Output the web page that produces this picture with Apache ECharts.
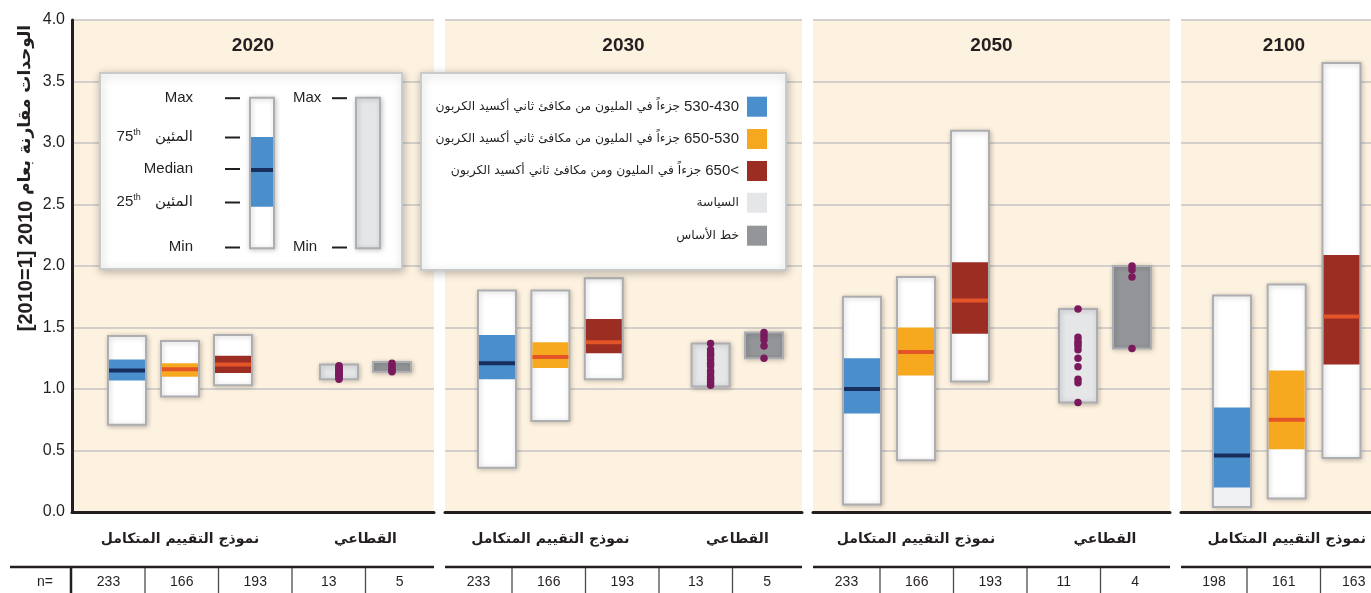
<!DOCTYPE html>
<html>
<head>
<meta charset="utf-8">
<script src="https://cdn.jsdelivr.net/npm/echarts@6/dist/echarts.min.js"></script>
<style>
  html, body { margin: 0; padding: 0; background: #ffffff; }
  #chart { width: 1371px; height: 593px; }
</style>
</head>
<body>
<div id="chart"></div>
<script>
// ---- Data -------------------------------------------------------------
const years = ['2020', '2030', '2050', '2100'];
const scenarioNames = ['430-530', '530-650', '>650'];
const sectorNames = ['السياسة', 'خط الأساس'];

// Integrated-model ranges per year: [min, 25th, median, 75th, max]
const iam430to530 = [
  [0.71, 1.07, 1.15, 1.24, 1.43],
  [0.36, 1.08, 1.21, 1.44, 1.80],
  [0.06, 0.80, 1.00, 1.25, 1.75],
  [0.04, 0.20, 0.46, 0.85, 1.76]
];
const iam530to650 = [
  [0.94, 1.10, 1.16, 1.21, 1.39],
  [0.74, 1.17, 1.26, 1.38, 1.80],
  [0.42, 1.11, 1.30, 1.50, 1.91],
  [0.11, 0.51, 0.75, 1.15, 1.85]
];
const iamAbove650 = [
  [1.03, 1.13, 1.20, 1.27, 1.44],
  [1.08, 1.29, 1.38, 1.57, 1.90],
  [1.06, 1.45, 1.72, 2.03, 3.10],
  [0.44, 1.20, 1.59, 2.09, 3.65]
];

// Sectoral studies (2020, 2030, 2050): [min, max] and individual studies
const policyRange = [[1.08, 1.20], [1.02, 1.37], [0.89, 1.65]];
const baselineRange = [[1.14, 1.22], [1.25, 1.46], [1.33, 2.00]];
const policyPoints = [
  [1.19, 1.18, 1.17, 1.16, 1.15, 1.14, 1.13, 1.12, 1.12, 1.11, 1.10, 1.09, 1.08],
  [1.37, 1.32, 1.29, 1.27, 1.24, 1.21, 1.19, 1.15, 1.13, 1.10, 1.08, 1.05, 1.03],
  [1.65, 1.42, 1.39, 1.37, 1.35, 1.32, 1.25, 1.18, 1.08, 1.05, 0.89]
];
const baselinePoints = [
  [1.21, 1.19, 1.17, 1.15, 1.14],
  [1.46, 1.43, 1.40, 1.35, 1.25],
  [2.00, 1.97, 1.91, 1.33]
];

// Number of scenarios / studies behind each column
const nIam = [[233, 166, 193], [233, 166, 193], [233, 166, 193], [198, 161, 163]];
const nSector = [[13, 5], [13, 5], [11, 4]];

const iamByScenario = [iam430to530, iam530to650, iamAbove650];

// ---- Layout & styles ---------------------------------------------------
const TOP = 20, BASE = 512;
const panels = [
  { left: 72,   right: 434,  dataLeft: 100.5,  band: 53,    tableSep: 145 },
  { left: 445,  right: 802,  dataLeft: 470.3,  band: 53.4,  tableSep: 512 },
  { left: 813,  right: 1170, dataLeft: 835,    band: 54,    tableSep: 880 },
  { left: 1181, right: 1387, dataLeft: 1204.6, band: 54.75, tableSep: 1247 }
];
const TABLE_COL = 73.5;
const BOX_W = 38;

const FONT = "'Liberation Sans', Arial, sans-serif";
const AR_FONT = "'DejaVu Sans', sans-serif";
const INK = '#231f20';
const PANEL_BG = '#fdf1df';
const GRID_LINE = '#c4c4c4';
const BOX_STROKE = '#adaeb1';
const DOT = '#7a1a5c';
const scenarioStyle = [
  { band: '#4a8ecb', median: '#182f5d' },
  { band: '#f6a81f', median: '#e35427' },
  { band: '#9b2d22', median: '#e35427' }
];
const sectorFill = ['#e5e6e8', '#939598'];
// light fill of the lower tail of the 430-530 column in 2100
const lowerTailFill = { '2100': { 0: '#eff0f2' } };

const boxShadow = { shadowBlur: 5, shadowColor: 'rgba(0,0,0,0.22)', shadowOffsetX: 1, shadowOffsetY: 1 };
const KEY_Z = 40;

function categoriesFor(i) {
  return i < 3 ? [...scenarioNames, ' ', ...sectorNames] : [...scenarioNames];
}

function centredText(x, y, text, font, extra) {
  return Object.assign({ type: 'text', z: 20, x, y,
    style: { text, font, fill: INK, align: 'center', verticalAlign: 'middle',
             textAlign: 'center', textVerticalAlign: 'middle' } }, extra || {});
}

// ---- Components --------------------------------------------------------
const grid = [], xAxis = [], yAxis = [], series = [], graphic = [];

panels.forEach((p, i) => {
  const cats = categoriesFor(i);
  // frame grid: beige panel, gridlines, baseline
  grid.push({ left: p.left, top: TOP, width: p.right - p.left, height: BASE - TOP,
              show: true, backgroundColor: PANEL_BG, borderWidth: 0 });
  // data grid: category slots for the columns
  grid.push({ left: p.dataLeft, top: TOP, width: p.band * cats.length, height: BASE - TOP });

  xAxis.push({ gridIndex: 2 * i, type: 'value', min: 0, max: 1,
    axisLine: { show: true, onZero: false, lineStyle: { color: INK, width: 3 } },
    axisTick: { show: false }, axisLabel: { show: false }, splitLine: { show: false } });
  yAxis.push({ gridIndex: 2 * i, type: 'value', min: 0, max: 4, interval: 0.5,
    axisLine: { show: i === 0, lineStyle: { color: INK, width: 3 } },
    axisTick: { show: false },
    axisLabel: { show: i === 0, formatter: v => v.toFixed(1), fontSize: 16, fontFamily: FONT, color: INK, margin: 7 },
    splitLine: { show: true, lineStyle: { color: GRID_LINE, width: 1.5 } } });

  xAxis.push({ gridIndex: 2 * i + 1, type: 'category', data: cats, show: false });
  yAxis.push({ gridIndex: 2 * i + 1, type: 'value', min: 0, max: 4, show: false });

  const year = years[i];

  // integrated-model columns
  series.push({
    type: 'custom', name: 'IAM ' + year, xAxisIndex: 2 * i + 1, yAxisIndex: 2 * i + 1, z: 3,
    data: scenarioNames.map((name, s) => [name, ...iamByScenario[s][i]]),
    renderItem: (params, api) => {
      const s = params.dataIndex;
      const idx = api.value(0);
      const xc = api.coord([idx, 0])[0];
      const y = v => api.coord([idx, v])[1];
      const x0 = xc - BOX_W / 2;
      const yMin = y(api.value(1)), yQ1 = y(api.value(2)), yMed = y(api.value(3)),
            yQ3 = y(api.value(4)), yMax = y(api.value(5));
      const st = scenarioStyle[s];
      const children = [
        { type: 'rect', shape: { x: x0, y: yMax, width: BOX_W, height: yMin - yMax },
          style: Object.assign({ fill: '#ffffff', stroke: BOX_STROKE, lineWidth: 2 }, boxShadow) }
      ];
      const tail = lowerTailFill[year] && lowerTailFill[year][s];
      if (tail) {
        children.push({ type: 'rect', shape: { x: x0 + 1, y: yQ1, width: BOX_W - 2, height: yMin - yQ1 - 1 },
                        style: { fill: tail } });
      }
      children.push(
        { type: 'rect', shape: { x: x0 + 1, y: yQ3, width: BOX_W - 2, height: yQ1 - yQ3 }, style: { fill: st.band } },
        { type: 'rect', shape: { x: x0 + 1, y: yMed - 2, width: BOX_W - 2, height: 4 }, style: { fill: st.median } }
      );
      return { type: 'group', children };
    }
  });

  if (i < 3) {
    // sectoral ranges
    series.push({
      type: 'custom', name: 'Sectoral ' + year, xAxisIndex: 2 * i + 1, yAxisIndex: 2 * i + 1, z: 3,
      data: [[sectorNames[0], ...policyRange[i]], [sectorNames[1], ...baselineRange[i]]],
      renderItem: (params, api) => {
        const idx = api.value(0);
        const xc = api.coord([idx, 0])[0];
        const yLo = api.coord([idx, api.value(1)])[1];
        const yHi = api.coord([idx, api.value(2)])[1];
        return { type: 'rect', shape: { x: xc - BOX_W / 2, y: yHi, width: BOX_W, height: yLo - yHi },
          style: Object.assign({ fill: sectorFill[params.dataIndex], stroke: BOX_STROKE, lineWidth: 2 }, boxShadow) };
      }
    });
    // individual sectoral studies
    series.push({
      type: 'scatter', name: 'Studies ' + year, xAxisIndex: 2 * i + 1, yAxisIndex: 2 * i + 1, z: 4,
      symbol: 'circle', symbolSize: 7.5, itemStyle: { color: DOT, opacity: 1 },
      data: [...policyPoints[i].map(v => [sectorNames[0], v]), ...baselinePoints[i].map(v => [sectorNames[1], v])]
    });
  }

  // panel title
  graphic.push(centredText((p.left + p.right) / 2, 46, year, 'bold 19px ' + FONT));

  // group labels under the axis
  graphic.push(centredText(p.dataLeft + p.band * 1.5, 539, 'نموذج التقييم المتكامل', 'bold 14px ' + AR_FONT));
  if (i < 3) {
    graphic.push(centredText(p.dataLeft + p.band * 5, 539, 'القطاعي', 'bold 14px ' + AR_FONT));
  }

  // n= row
  const lineStart = i === 0 ? 10 : p.left;
  graphic.push({ type: 'line', z: 20, shape: { x1: lineStart, y1: 567, x2: p.right, y2: 567 },
                 style: { stroke: INK, lineWidth: 2.5 } });
  const counts = i < 3 ? [...nIam[i], ...nSector[i]] : nIam[i];
  const edges = [p.left];
  for (let k = 0; k < counts.length - 1; k++) edges.push(p.tableSep + TABLE_COL * k);
  edges.push(p.right);
  counts.forEach((n, k) => {
    graphic.push(centredText((edges[k] + edges[k + 1]) / 2, 582, String(n), '14px ' + FONT));
  });
  for (let k = 1; k < counts.length; k++) {
    graphic.push({ type: 'line', z: 20, shape: { x1: edges[k], y1: 568, x2: edges[k], y2: 593 },
                   style: { stroke: '#4a4a4a', lineWidth: 1.3 } });
  }
  if (i === 0) {
    graphic.push({ type: 'line', z: 20, shape: { x1: 71, y1: 567, x2: 71, y2: 593 },
                   style: { stroke: INK, lineWidth: 2.5 } });
    graphic.push(centredText(45, 582, 'n=', '14px ' + FONT));
  }
});

// y-axis title
graphic.push({ type: 'text', z: 20, x: 26, y: 178, rotation: Math.PI / 2,
  style: {
    text: '{a|[2010=1] 2010 }{b|الوحدات مقارنة بعام}',
    rich: {
      a: { fontFamily: FONT, fontWeight: 'bold', fontSize: 20, fill: INK },
      b: { fontFamily: AR_FONT, fontWeight: 'bold', fontSize: 17, fill: INK }
    },
    fill: INK, align: 'center', verticalAlign: 'middle', textAlign: 'center', textVerticalAlign: 'middle'
  } });

// ---- Key: how to read a column ----------------------------------------
const keyPanelStyle = { fill: '#ffffff', stroke: '#c9cacc', lineWidth: 2,
  shadowBlur: 8, shadowColor: 'rgba(0,0,0,0.25)', shadowOffsetX: 1, shadowOffsetY: 2 };
graphic.push({ type: 'rect', z: KEY_Z, shape: { x: 100, y: 73, width: 302, height: 196 }, style: keyPanelStyle });
const percentileRich = {
  n: { fontFamily: FONT, fontSize: 15, fill: INK, lineHeight: 18 },
  s: { fontFamily: FONT, fontSize: 9, fill: INK, verticalAlign: 'top', lineHeight: 18 },
  t: { fontFamily: AR_FONT, fontSize: 15, fill: INK, lineHeight: 18 }
};
const keyLabels = [
  { y: 97.7, text: 'Max' },
  { y: 137, text: '{n|75}{s|th}{t|   المئين}' },
  { y: 168.5, text: 'Median' },
  { y: 202, text: '{n|25}{s|th}{t|   المئين}' },
  { y: 247, text: 'Min' }
];
keyLabels.forEach(l => {
  graphic.push({ type: 'text', z: KEY_Z + 1, x: 193, y: l.y,
    style: { text: l.text, rich: percentileRich, font: '15px ' + FONT, fill: INK,
             align: 'right', verticalAlign: 'middle', textAlign: 'right', textVerticalAlign: 'middle' } });
  graphic.push({ type: 'line', z: KEY_Z + 1, shape: { x1: 225, y1: l.y + 0.5, x2: 240, y2: l.y + 0.5 },
                 style: { stroke: INK, lineWidth: 2 } });
});
graphic.push({ type: 'rect', z: KEY_Z + 1, shape: { x: 250, y: 97.7, width: 24, height: 150.6 },
  style: Object.assign({ fill: '#ffffff', stroke: BOX_STROKE, lineWidth: 2 }, boxShadow) });
graphic.push({ type: 'rect', z: KEY_Z + 2, shape: { x: 251, y: 137, width: 22, height: 69.7 },
               style: { fill: scenarioStyle[0].band } });
graphic.push({ type: 'rect', z: KEY_Z + 3, shape: { x: 251, y: 168, width: 22, height: 4 },
               style: { fill: scenarioStyle[0].median } });
[{ y: 97.7, text: 'Max' }, { y: 247, text: 'Min' }].forEach(l => {
  graphic.push({ type: 'text', z: KEY_Z + 1, x: 293, y: l.y,
    style: { text: l.text, font: '15px ' + FONT, fill: INK, align: 'left', verticalAlign: 'middle',
             textAlign: 'left', textVerticalAlign: 'middle' } });
  graphic.push({ type: 'line', z: KEY_Z + 1, shape: { x1: 332, y1: l.y + 0.5, x2: 347, y2: l.y + 0.5 },
                 style: { stroke: INK, lineWidth: 2 } });
});
graphic.push({ type: 'rect', z: KEY_Z + 1, shape: { x: 356, y: 97.7, width: 24, height: 150.6 },
  style: Object.assign({ fill: sectorFill[0], stroke: BOX_STROKE, lineWidth: 2 }, boxShadow) });

// ---- Key: colours -----------------------------------------------------
graphic.push({ type: 'rect', z: KEY_Z, shape: { x: 421, y: 73, width: 365, height: 197 }, style: keyPanelStyle });
const legendRows = [
  { color: scenarioStyle[0].band, text: '{t|جزءاً في المليون من مكافئ ثاني أكسيد الكربون }{n|530-430}' },
  { color: scenarioStyle[1].band, text: '{t|جزءاً في المليون من مكافئ ثاني أكسيد الكربون }{n|650-530}' },
  { color: scenarioStyle[2].band, text: '{t|جزءاً في المليون ومن مكافئ ثاني أكسيد الكربون }{n|650<}' },
  { color: sectorFill[0], text: '{t|السياسة}' },
  { color: sectorFill[1], text: '{t|خط الأساس}' }
];
const legendRich = {
  t: { fontFamily: AR_FONT, fontSize: 12.3, fill: INK },
  n: { fontFamily: FONT, fontSize: 15, fill: INK }
};
const rowY = [106.7, 139, 171, 202.7, 235.7];
legendRows.forEach((r, k) => {
  graphic.push({ type: 'rect', z: KEY_Z + 1, shape: { x: 747, y: rowY[k] - 10, width: 20, height: 20 },
                 style: { fill: r.color } });
  graphic.push({ type: 'text', z: KEY_Z + 1, x: 739, y: rowY[k],
    style: { text: r.text, rich: legendRich, fill: INK, align: 'right', verticalAlign: 'middle',
             textAlign: 'right', textVerticalAlign: 'middle' } });
});

const chart = echarts.init(document.getElementById('chart'), null, { renderer: 'canvas' });
chart.setOption({
  animation: false,
  backgroundColor: '#ffffff',
  grid, xAxis, yAxis, series, graphic
});
</script>
</body>
</html>
